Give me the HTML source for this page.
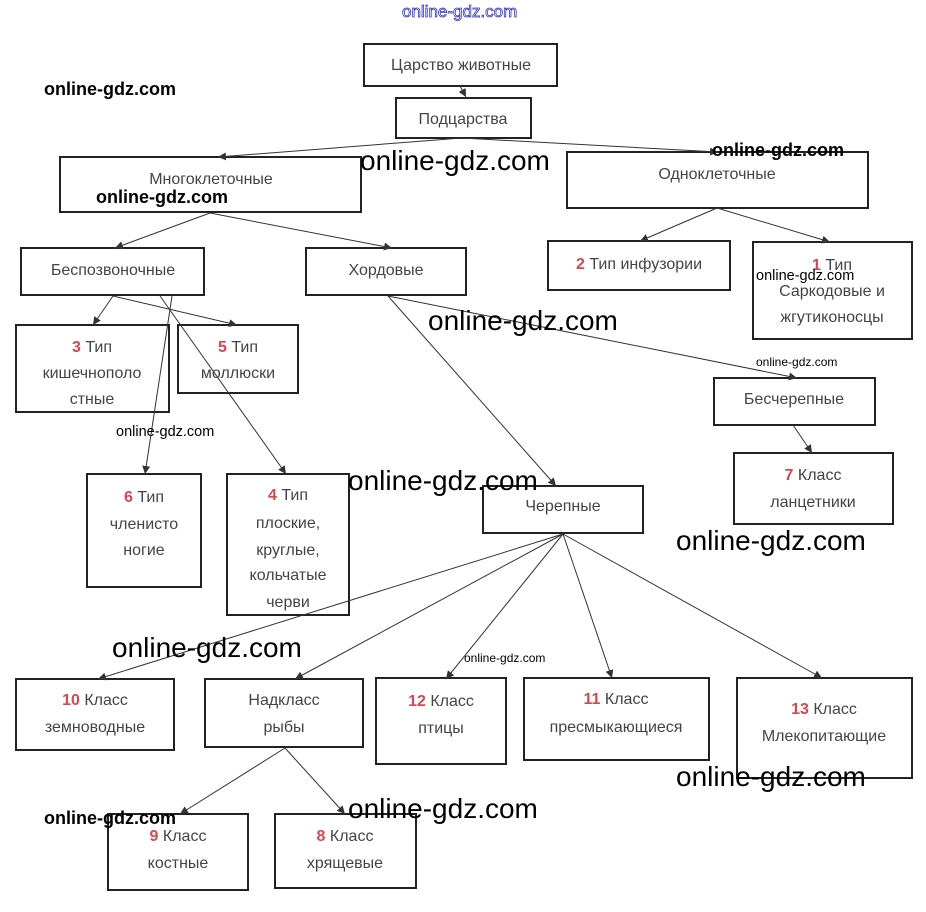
<!DOCTYPE html>
<html><head><meta charset="utf-8"><style>
body{margin:0;background:#fff;}
svg{display:block;}
.b{fill:#fff;stroke:#222;stroke-width:2;}
.t{font-family:"Liberation Sans","DejaVu Sans",sans-serif;font-size:16px;fill:#444;text-anchor:middle;}
.r{fill:#d9464f;font-weight:bold;}
.l{stroke:#333;stroke-width:1;fill:none;marker-end:url(#a);}
.w{font-family:"Liberation Sans",sans-serif;font-weight:bold;fill:#000;}
</style></head><body>
<svg width="926" height="912" xmlns="http://www.w3.org/2000/svg">
<defs><marker id="a" viewBox="0 0 10 10" refX="10" refY="5" markerWidth="8" markerHeight="8" orient="auto" markerUnits="userSpaceOnUse"><path d="M0,0L10,5L0,10z" fill="#333"/></marker></defs>
<g>
<rect class="b" x="364" y="44" width="193" height="42"/>
<rect class="b" x="396" y="98" width="135" height="40"/>
<rect class="b" x="60" y="157" width="301" height="55"/>
<rect class="b" x="567" y="152" width="301" height="56"/>
<rect class="b" x="21" y="248" width="183" height="47"/>
<rect class="b" x="306" y="248" width="160" height="47"/>
<rect class="b" x="548" y="241" width="182" height="49"/>
<rect class="b" x="753" y="242" width="159" height="97"/>
<rect class="b" x="16" y="325" width="153" height="87"/>
<rect class="b" x="178" y="325" width="120" height="68"/>
<rect class="b" x="714" y="378" width="161" height="47"/>
<rect class="b" x="734" y="453" width="159" height="71"/>
<rect class="b" x="87" y="474" width="114" height="113"/>
<rect class="b" x="227" y="474" width="122" height="141"/>
<rect class="b" x="483" y="486" width="160" height="47"/>
<rect class="b" x="16" y="679" width="158" height="71"/>
<rect class="b" x="205" y="679" width="158" height="68"/>
<rect class="b" x="376" y="678" width="130" height="86"/>
<rect class="b" x="524" y="678" width="185" height="82"/>
<rect class="b" x="737" y="678" width="175" height="100"/>
<rect class="b" x="108" y="814" width="140" height="76"/>
<rect class="b" x="275" y="814" width="141" height="74"/>
</g>
<g>
<line class="l" x1="460" y1="86" x2="466" y2="97"/>
<line class="l" x1="462" y1="138" x2="218" y2="157"/>
<line class="l" x1="462" y1="138" x2="718" y2="152"/>
<line class="l" x1="210" y1="213" x2="115" y2="248"/>
<line class="l" x1="210" y1="213" x2="392" y2="248"/>
<line class="l" x1="717" y1="208" x2="640" y2="241"/>
<line class="l" x1="717" y1="208" x2="830" y2="242"/>
<line class="l" x1="113" y1="296" x2="93" y2="325"/>
<line class="l" x1="113" y1="296" x2="237" y2="325"/>
<line class="l" x1="172" y1="296" x2="145" y2="474"/>
<line class="l" x1="160" y1="296" x2="286" y2="474"/>
<line class="l" x1="388" y1="296" x2="797" y2="378"/>
<line class="l" x1="388" y1="296" x2="556" y2="486"/>
<line class="l" x1="793" y1="425" x2="812" y2="453"/>
<line class="l" x1="563" y1="534" x2="98" y2="679"/>
<line class="l" x1="563" y1="534" x2="295" y2="679"/>
<line class="l" x1="563" y1="534" x2="446" y2="679"/>
<line class="l" x1="563" y1="534" x2="612" y2="678"/>
<line class="l" x1="563" y1="534" x2="822" y2="678"/>
<line class="l" x1="285" y1="748" x2="180" y2="814"/>
<line class="l" x1="285" y1="748" x2="345" y2="814"/>
</g>
<g class="t">
<text x="461" y="70">Царство животные</text>
<text x="463" y="124">Подцарства</text>
<text x="211" y="184">Многоклеточные</text>
<text x="717" y="179">Одноклеточные</text>
<text x="113" y="275">Беспозвоночные</text>
<text x="386" y="275">Хордовые</text>
<text x="639" y="269"><tspan class="r">2</tspan> Тип инфузории</text>
<text x="832" y="270"><tspan class="r">1</tspan> Тип</text>
<text x="832" y="296">Саркодовые и</text>
<text x="832" y="322">жгутиконосцы</text>
<text x="92" y="352"><tspan class="r">3</tspan> Тип</text>
<text x="92" y="378">кишечнополо</text>
<text x="92" y="404">стные</text>
<text x="238" y="352"><tspan class="r">5</tspan> Тип</text>
<text x="238" y="378">моллюски</text>
<text x="794" y="404">Бесчерепные</text>
<text x="813" y="480"><tspan class="r">7</tspan> Класс</text>
<text x="813" y="507">ланцетники</text>
<text x="144" y="502"><tspan class="r">6</tspan> Тип</text>
<text x="144" y="529">членисто</text>
<text x="144" y="555">ногие</text>
<text x="288" y="500"><tspan class="r">4</tspan> Тип</text>
<text x="288" y="528">плоские,</text>
<text x="288" y="555">круглые,</text>
<text x="288" y="580">кольчатые</text>
<text x="288" y="607">черви</text>
<text x="563" y="511">Черепные</text>
<text x="95" y="705"><tspan class="r">10</tspan> Класс</text>
<text x="95" y="732">земноводные</text>
<text x="284" y="705">Надкласс</text>
<text x="284" y="732">рыбы</text>
<text x="441" y="706"><tspan class="r">12</tspan> Класс</text>
<text x="441" y="733">птицы</text>
<text x="616" y="704"><tspan class="r">11</tspan> Класс</text>
<text x="616" y="732">пресмыкающиеся</text>
<text x="824" y="714"><tspan class="r">13</tspan> Класс</text>
<text x="824" y="741">Млекопитающие</text>
<text x="178" y="841"><tspan class="r">9</tspan> Класс</text>
<text x="178" y="868">костные</text>
<text x="345" y="841"><tspan class="r">8</tspan> Класс</text>
<text x="345" y="868">хрящевые</text>
</g>
<g class="w">
<text x="402" y="17" font-size="17" font-weight="normal" fill="#fff" stroke="#33c" stroke-width="0.8">online-gdz.com</text>
<text x="44" y="95" font-size="18">online-gdz.com</text>
<text x="96" y="203" font-size="18">online-gdz.com</text>
<text x="712" y="156" font-size="18">online-gdz.com</text>
<text x="44" y="824" font-size="18">online-gdz.com</text>
<text x="360" y="170" font-size="28" font-weight="normal">online-gdz.com</text>
<text x="428" y="330" font-size="28" font-weight="normal">online-gdz.com</text>
<text x="348" y="490" font-size="28" font-weight="normal">online-gdz.com</text>
<text x="676" y="550" font-size="28" font-weight="normal">online-gdz.com</text>
<text x="112" y="657" font-size="28" font-weight="normal">online-gdz.com</text>
<text x="676" y="786" font-size="28" font-weight="normal">online-gdz.com</text>
<text x="348" y="818" font-size="28" font-weight="normal">online-gdz.com</text>
<text x="756" y="280" font-size="14.5" font-weight="normal">online-gdz.com</text>
<text x="116" y="436" font-size="14.5" font-weight="normal">online-gdz.com</text>
<text x="464" y="662" font-size="12" font-weight="normal">online-gdz.com</text>
<text x="756" y="366" font-size="12" font-weight="normal">online-gdz.com</text>
</g>
</svg>
</body></html>
